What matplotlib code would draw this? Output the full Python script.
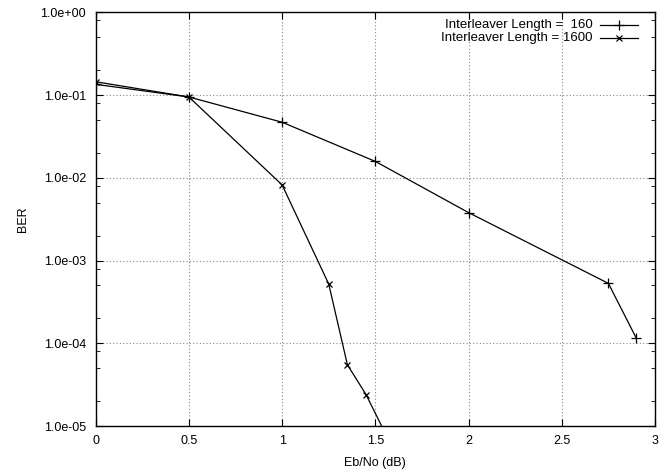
import numpy as np
import matplotlib
matplotlib.use("Agg")
import matplotlib.pyplot as plt
from matplotlib.ticker import LogLocator, FuncFormatter, NullFormatter

plt.rcParams['font.family'] = ['Liberation Sans', 'DejaVu Sans']

# Eb/No (dB) and BER
ebno_160 = [0.0, 0.5, 1.0, 1.5, 2.0, 2.75, 2.9]
ber_160 = [0.135, 0.095, 0.047, 0.0158, 0.0038, 5.3e-4, 1.15e-4]

ebno_1600 = [0.0, 0.5, 1.0, 1.25, 1.35, 1.45, 1.6]
ber_1600 = [0.145, 0.095, 0.0082, 5.2e-4, 5.5e-5, 2.4e-5, 5.0e-6]

labels = ["Interleaver Length =  160", "Interleaver Length = 1600"]
markers = ['+', 'x']

fig = plt.figure(figsize=(6.67, 4.70), dpi=100)
ax = fig.add_axes([0.1435, 0.0936, 0.8385, 0.880])

ax.plot(ebno_160, ber_160, color='black', lw=0.9, marker='+', ms=7, mew=0.9)
ax.plot(ebno_1600, ber_1600, color='black', lw=0.9, marker='x', ms=5, mew=0.9)

ax.set_yscale('log')
ax.set_xlim(0, 3)
ax.set_ylim(1e-5, 1)
ax.set_xticks([0, 0.5, 1, 1.5, 2, 2.5, 3])
ax.xaxis.set_major_formatter(FuncFormatter(lambda v, p: "%g" % v))
ax.yaxis.set_major_locator(LogLocator(base=10, numticks=10))
ax.yaxis.set_minor_locator(LogLocator(base=10, subs=[2, 5, 8], numticks=20))
ax.yaxis.set_minor_formatter(NullFormatter())
ax.yaxis.set_major_formatter(FuncFormatter(lambda v, p: "%.1e" % v))

ax.tick_params(which='both', direction='in', top=True, right=True, labelsize=9)
ax.tick_params(which='major', length=5, width=0.8)
ax.tick_params(which='minor', length=3, width=0.6)
ax.tick_params(axis='x', which='major', pad=6.5)
ax.tick_params(axis='y', which='major', pad=7)
ax.grid(True, which='major', linestyle=(0, (1, 2)), color='#888888', lw=0.8)
for s in ax.spines.values():
    s.set_linewidth(1.0)

ax.set_xlabel("Eb/No (dB)", fontsize=9, labelpad=7)
ax.set_ylabel("BER", fontsize=9, labelpad=8)

# gnuplot-style legend: right-justified text, sample to the right
for i, (lab, mk) in enumerate(zip(labels, markers)):
    yy = 0.969 - i * 0.031
    ax.text(0.889, yy, lab, transform=ax.transAxes, ha='right', va='center', fontsize=9.5)
    ax.plot([0.902, 0.970], [yy, yy], transform=ax.transAxes, color='black', lw=0.9)
    ax.plot([0.936], [yy], transform=ax.transAxes, color='black', marker=mk,
            ms=7 if mk == '+' else 5, mew=0.9)

fig.savefig("out.png", dpi=100)
